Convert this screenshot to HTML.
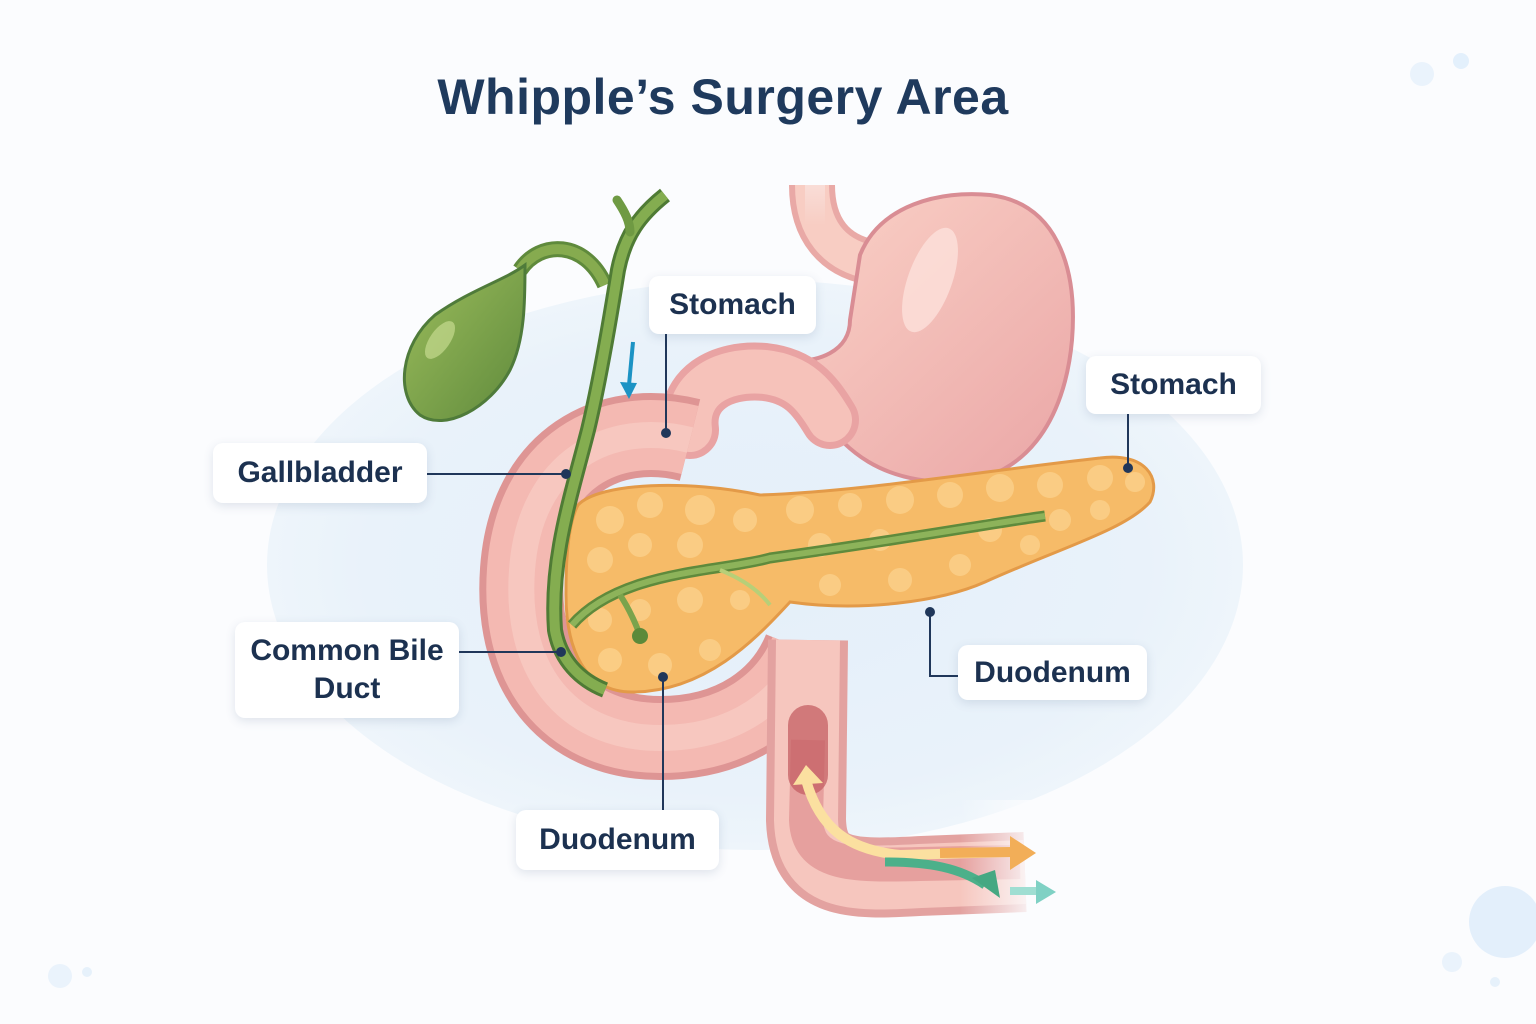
<!DOCTYPE html>
<html><head><meta charset="utf-8"><style>
html,body{margin:0;padding:0;background:#fbfcfe;}
body{width:1536px;height:1024px;position:relative;overflow:hidden;font-family:"Liberation Sans",sans-serif;}
.t{position:absolute;left:0;width:1446px;text-align:center;top:68px;font-size:50px;font-weight:bold;color:#1f3a5d;letter-spacing:0.5px;}
.lb{position:absolute;background:#fff;border-radius:10px;box-shadow:0 3px 10px rgba(60,90,130,0.15);color:#1c3150;font-size:30px;font-weight:bold;display:flex;align-items:center;justify-content:center;text-align:center;line-height:38px;}
</style></head><body>
<svg width="1536" height="1024" style="position:absolute;left:0;top:0">
<defs>
<radialGradient id="bg" cx="0.5" cy="0.5" r="0.5"><stop offset="0" stop-color="#e4eff9"/><stop offset="0.8" stop-color="#e9f2fa"/><stop offset="1" stop-color="#eef5fb"/></radialGradient>
<linearGradient id="gb" x1="0" y1="0" x2="1" y2="1"><stop offset="0" stop-color="#9cbd5c"/><stop offset="1" stop-color="#5f8a3c"/></linearGradient>
<linearGradient id="st" x1="0" y1="0" x2="1" y2="1"><stop offset="0" stop-color="#fbd3c8"/><stop offset="1" stop-color="#eaa6a6"/></linearGradient>
<linearGradient id="fade" x1="0" y1="0" x2="1" y2="0"><stop offset="0" stop-color="#fbfcfe" stop-opacity="0"/><stop offset="1" stop-color="#fbfcfe" stop-opacity="1"/></linearGradient>
</defs>
<ellipse cx="755" cy="565" rx="488" ry="285" fill="url(#bg)"/>
<circle cx="1422" cy="74" r="12" fill="#eaf3fc"/><circle cx="1461" cy="61" r="8" fill="#e3f0fc"/>
<circle cx="60" cy="976" r="12" fill="#eaf3fc"/><circle cx="87" cy="972" r="5" fill="#e6f1fb"/>
<circle cx="1505" cy="922" r="36" fill="#e3effb"/><circle cx="1452" cy="962" r="10" fill="#eaf3fc"/><circle cx="1495" cy="982" r="5" fill="#e6f1fb"/>
<!-- esophagus -->
<path d="M812,185 C812,230 835,255 870,262" stroke="#e9a9a6" stroke-width="46" fill="none"/>
<path d="M812,185 C812,230 835,255 870,262" stroke="#f8cdc3" stroke-width="34" fill="none"/>
<rect x="780" y="180" width="70" height="20" fill="url(#fade)" transform="rotate(-90 815 190)" opacity="0.6"/>
<!-- stomach body -->
<path d="M860,255 C880,205 940,190 990,195 C1055,203 1078,265 1072,340 C1065,420 1025,482 950,482 C880,482 845,450 820,415 C808,395 790,385 770,395 L780,360 C820,365 850,350 850,320 Z" fill="url(#st)" stroke="#d98d94" stroke-width="4"/>
<ellipse cx="930" cy="280" rx="22" ry="55" fill="#fde6df" opacity="0.7" transform="rotate(20 930 280)"/>
<!-- bulb / pylorus -->
<path d="M690,430 C685,390 720,368 765,372 C800,376 815,395 830,420" stroke="#e9a3a3" stroke-width="58" fill="none" stroke-linecap="round"/>
<path d="M690,430 C685,390 720,368 765,372 C800,376 815,395 830,420" stroke="#f6c2ba" stroke-width="44" fill="none" stroke-linecap="round"/>
<!-- duodenum C loop -->
<path d="M690,440 C610,420 530,460 522,570 C514,680 575,738 660,738 C735,738 785,700 805,650" stroke="#de9594" stroke-width="84" fill="none"/>
<path d="M690,440 C610,420 530,460 522,570 C514,680 575,738 660,738 C735,738 785,700 805,650" stroke="#f4b9b2" stroke-width="70" fill="none"/>
<path d="M690,440 C610,420 530,460 522,570 C514,680 575,738 660,738 C735,738 785,700 805,650" stroke="#f9d3cb" stroke-width="26" fill="none" opacity="0.55"/>
<!-- descending limb -->
<path d="M808,640 L806,820 C808,880 850,880 920,876 L1025,872" stroke="#e3a2a0" stroke-width="80" fill="none"/>
<path d="M808,640 L806,820 C808,880 850,880 920,876 L1025,872" stroke="#f6c6be" stroke-width="64" fill="none"/>
<path d="M808,740 L806,820 C808,865 850,866 920,864 L1020,862" stroke="#d98283" stroke-width="34" fill="none" opacity="0.55"/>
<path d="M808,725 C808,745 808,760 808,775" stroke="#c45f63" stroke-width="40" stroke-linecap="round" fill="none" opacity="0.75"/>
<rect x="960" y="800" width="80" height="120" fill="url(#fade)"/>
<!-- pancreas -->
<path d="M578,505 C600,482 690,480 760,495 C860,492 990,470 1100,458 C1145,452 1162,478 1150,502 C1125,530 1060,548 985,582 C940,602 860,612 790,602 C755,640 705,692 632,692 C585,692 565,650 566,590 C566,550 570,520 578,505 Z" fill="#f6bb68" stroke="#e39a48" stroke-width="3"/>
<g fill="#fbd08a" opacity="0.85">
<circle cx="610" cy="520" r="14"/><circle cx="650" cy="505" r="13"/><circle cx="700" cy="510" r="15"/><circle cx="745" cy="520" r="12"/><circle cx="800" cy="510" r="14"/><circle cx="850" cy="505" r="12"/><circle cx="900" cy="500" r="14"/><circle cx="950" cy="495" r="13"/><circle cx="1000" cy="488" r="14"/><circle cx="1050" cy="485" r="13"/><circle cx="1100" cy="478" r="13"/><circle cx="1135" cy="482" r="10"/>
<circle cx="600" cy="560" r="13"/><circle cx="640" cy="545" r="12"/><circle cx="690" cy="545" r="13"/><circle cx="820" cy="545" r="12"/><circle cx="880" cy="540" r="11"/><circle cx="990" cy="530" r="12"/><circle cx="1060" cy="520" r="11"/>
<circle cx="600" cy="620" r="12"/><circle cx="640" cy="610" r="11"/><circle cx="690" cy="600" r="13"/><circle cx="740" cy="600" r="10"/><circle cx="610" cy="660" r="12"/><circle cx="660" cy="665" r="12"/><circle cx="710" cy="650" r="11"/>
<circle cx="830" cy="585" r="11"/><circle cx="900" cy="580" r="12"/><circle cx="960" cy="565" r="11"/><circle cx="1030" cy="545" r="10"/><circle cx="1100" cy="510" r="10"/>
</g>
<!-- ducts -->
<path d="M572,625 C620,570 720,572 770,558 C900,540 1000,522 1045,516" stroke="#5f8a3c" stroke-width="11" fill="none"/>
<path d="M572,625 C620,570 720,572 770,558 C900,540 1000,522 1045,516" stroke="#8db35a" stroke-width="6" fill="none"/>
<path d="M620,595 C630,610 636,625 640,635" stroke="#7aa34c" stroke-width="6" fill="none"/>
<path d="M720,570 C745,580 760,592 770,605" stroke="#b7cf78" stroke-width="4" fill="none"/>
<circle cx="640" cy="636" r="8" fill="#5c8a3a"/>
<!-- gallbladder -->
<path d="M520,270 C540,240 585,240 605,285" stroke="#5f8a3c" stroke-width="16" fill="none"/>
<path d="M520,270 C540,240 585,240 605,285" stroke="#86ab4f" stroke-width="10" fill="none"/>
<path d="M525,265 C505,280 470,290 435,315 C400,345 395,395 420,415 C445,432 490,408 510,370 C525,340 525,300 525,265 Z" fill="url(#gb)" stroke="#4f7b3a" stroke-width="3"/>
<ellipse cx="440" cy="340" rx="10" ry="22" fill="#d1e39a" opacity="0.6" transform="rotate(35 440 340)"/>
<!-- CBD -->
<path d="M665,195 C640,215 625,235 618,270 C610,320 600,380 588,430 C570,500 550,560 555,630 C560,660 580,680 605,690" stroke="#4f7b35" stroke-width="16" fill="none"/>
<path d="M665,195 C640,215 625,235 618,270 C610,320 600,380 588,430 C570,500 550,560 555,630 C560,660 580,680 605,690" stroke="#84ad50" stroke-width="10" fill="none"/>
<path d="M617,200 C625,212 630,222 630,232" stroke="#6f9a43" stroke-width="9" fill="none" stroke-linecap="round"/>
<!-- blue arrow -->
<path d="M633,342 L629,385" stroke="#1c93c4" stroke-width="4"/>
<path d="M620,382 L629,399 L637,383 Z" fill="#1c93c4"/>
<!-- flow arrows -->
<path d="M806,780 C820,830 850,850 900,855 L1012,852" stroke="#fbe0a0" stroke-width="10" fill="none"/>
<path d="M940,853 L1012,852" stroke="#f2ae58" stroke-width="10" fill="none"/>
<path d="M1010,836 L1036,853 L1010,870 Z" fill="#f2ae58"/>
<path d="M793,785 L806,765 L823,783 Z" fill="#fbe0a0"/>
<path d="M885,862 C930,862 960,868 985,885" stroke="#4cb08a" stroke-width="9" fill="none"/>
<path d="M972,878 L1000,898 L995,870 Z" fill="#45a882"/>
<path d="M1010,891 L1040,891" stroke="#9fded2" stroke-width="8"/>
<path d="M1036,880 L1056,892 L1036,904 Z" fill="#7fd1c4"/>
<!-- leaders -->
<g stroke="#20375a" stroke-width="2" fill="none">
<path d="M666,334 L666,433"/><path d="M427,474 L566,474"/><path d="M459,652 L561,652"/>
<path d="M663,810 L663,677"/><path d="M958,676 L930,676 L930,612"/><path d="M1128,414 L1128,468"/>
</g>
<g fill="#20375a"><circle cx="666" cy="433" r="5"/><circle cx="566" cy="474" r="5"/><circle cx="561" cy="652" r="5"/><circle cx="663" cy="677" r="5"/><circle cx="930" cy="612" r="5"/><circle cx="1128" cy="468" r="5"/></g>
</svg>
<div class="t">Whipple’s Surgery Area</div>
<div class="lb" style="left:649px;top:276px;width:167px;height:58px;">Stomach</div>
<div class="lb" style="left:1086px;top:356px;width:175px;height:58px;">Stomach</div>
<div class="lb" style="left:213px;top:443px;width:214px;height:60px;">Gallbladder</div>
<div class="lb" style="left:235px;top:622px;width:224px;height:96px;">Common Bile<br>Duct</div>
<div class="lb" style="left:958px;top:645px;width:189px;height:55px;">Duodenum</div>
<div class="lb" style="left:516px;top:810px;width:203px;height:60px;">Duodenum</div>
</body></html>
